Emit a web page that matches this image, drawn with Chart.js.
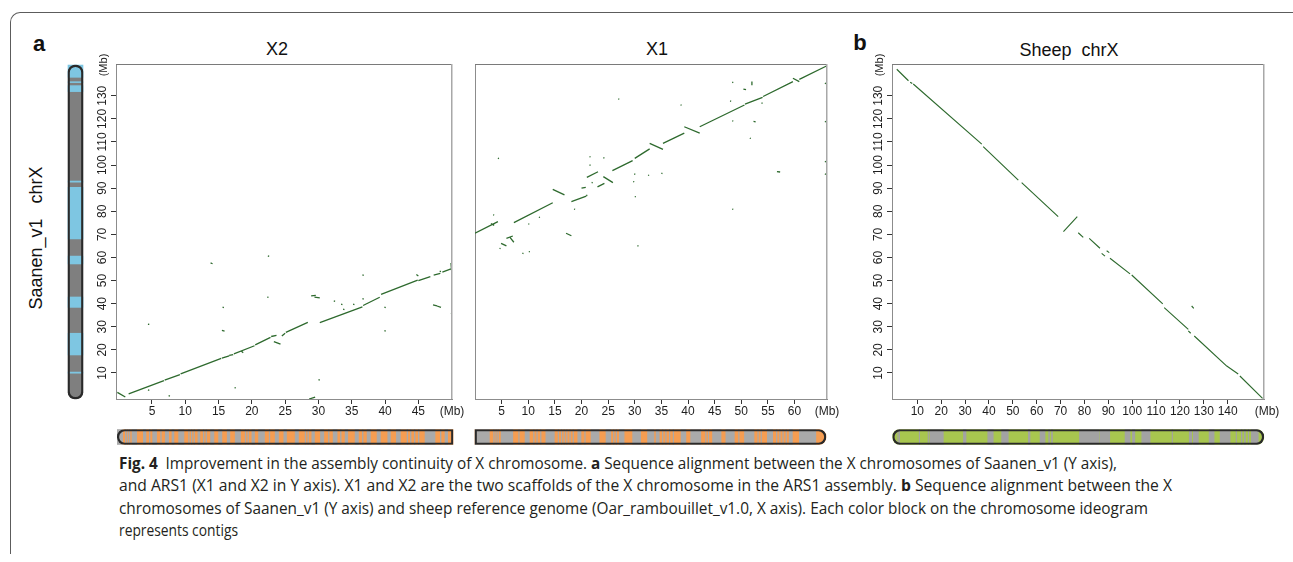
<!DOCTYPE html>
<html>
<head>
<meta charset="utf-8">
<script src="https://cdn.jsdelivr.net/npm/chart.js@4.4.1/dist/chart.umd.min.js"></script>
<style>
  body { margin: 0; background: #fff; width: 1293px; height: 562px; overflow: hidden; position: relative;
         font-family: "Liberation Sans", Arial, sans-serif; color: #111; }
  canvas, .t { position: absolute; }
  .frame { position: absolute; left: 10px; top: 12px; width: 1300px; height: 541px;
           border-top: 1.5px solid #5c5c5c; border-left: 1.5px solid #5c5c5c; border-top-left-radius: 10px; }
  .t { white-space: pre; line-height: 1; }
  .title { font-size: 18px; transform: translate(-50%, -50%); }
  .tag { font-size: 22px; font-weight: bold; transform: translate(-50%, -50%); }
  #caption { position: absolute; left: 119px; top: 452px; font-family: "Open Sans", sans-serif; font-size: 16.5px; color: #231f20; }
  #caption div { line-height: 22.3px; white-space: nowrap; transform-origin: 0 50%; width: max-content; }
</style>
</head>
<body>
<div class="frame"></div>

<div class="t tag" style="left:39px;top:44px">a</div>
<div class="t tag" style="left:860px;top:43px">b</div>
<div class="t title" style="left:277px;top:49px">X2</div>
<div class="t title" style="left:657px;top:49px">X1</div>
<div class="t title" style="left:1069px;top:50px">Sheep  chrX</div>
<div class="t title" style="left:36px;top:238px;transform:translate(-50%,-50%) rotate(-90deg)">Saanen_v1   chrX</div>

<canvas id="ideoSaanen"></canvas>
<canvas id="plotX2"></canvas>
<canvas id="plotX1"></canvas>
<canvas id="plotSheep"></canvas>
<canvas id="ideoX2"></canvas>
<canvas id="ideoX1"></canvas>
<canvas id="ideoSheep"></canvas>

<div id="caption">
  <div data-w="998"><b>Fig. 4</b>&ensp;Improvement in the assembly continuity of X chromosome. <b>a</b> Sequence alignment between the X chromosomes of Saanen_v1 (Y axis),</div>
  <div data-w="1053">and ARS1 (X1 and X2 in Y axis). X1 and X2 are the two scaffolds of the X chromosome in the ARS1 assembly. <b>b</b> Sequence alignment between the X</div>
  <div data-w="1029">chromosomes of Saanen_v1 (Y axis) and sheep reference genome (Oar_rambouillet_v1.0, X axis). Each color block on the chromosome ideogram</div>
  <div data-w="119">represents contigs</div>
</div>

<script>
"use strict";

// tick labels (Mb)
const saanenTicks = [10, 20, 30, 40, 50, 60, 70, 80, 90, 100, 110, 120, 130];
const x2Ticks = [5, 10, 15, 20, 25, 30, 35, 40, 45];
const x1Ticks = [5, 10, 15, 20, 25, 30, 35, 40, 45, 50, 55, 60];
const sheepTicks = [10, 20, 30, 40, 50, 60, 70, 80, 90, 100, 110, 120, 130, 140];

// alignment segments [x1, y1, x2, y2] in Mb (x = reference, y = Saanen_v1)
const x2Segments = [
    [-0.2, 1.6, 1.0, -0.4], [1.5, 1.0, 6.8, 6.7], [6.9, 6.9, 9.2, 9.3], [9.3, 9.6, 15.4, 16.3],
    [15.5, 16.4, 16.6, 17.4], [16.6, 17.6, 17.2, 18.0], [17.3, 18.3, 20.4, 21.8], [20.5, 22.2, 22.8, 25.4],
    [22.9, 25.8, 23.7, 26.3], [23.3, 23.6, 24.3, 22.5], [24.5, 26.0, 25.0, 27.2], [25.1, 27.6, 28.4, 31.9],
    [30.2, 31.8, 36.6, 38.6], [36.7, 39.2, 39.2, 42.8], [39.4, 44.0, 44.9, 50.2], [45.0, 50.0, 46.8, 51.7],
    [47.3, 52.4, 48.3, 53.1], [48.6, 53.7, 50.0, 55.2],
    [4.4, 2.7, 4.6, 2.5], [4.4, 31.1, 4.6, 31.0], [7.5, 0.2, 7.7, 0.0], [13.8, 57.7, 14.1, 57.3],
    [15.6, 38.5, 15.8, 38.3], [15.5, 28.4, 15.9, 28.1], [17.4, 3.7, 17.6, 3.5], [18.4, 19.5, 18.7, 18.8],
    [22.4, 60.7, 22.6, 60.5], [22.3, 42.9, 22.5, 42.7], [28.9, 43.4, 29.6, 43.6], [29.4, 42.8, 30.2, 42.5],
    [30.0, 7.1, 30.2, 6.9], [28.6, -1.3, 29.5, -0.4], [32.3, 41.2, 32.5, 41.0], [33.4, 39.8, 33.6, 39.6],
    [33.7, 37.6, 33.9, 37.4], [35.2, 39.8, 35.4, 39.6], [36.6, 52.5, 36.8, 52.3], [36.6, 42.2, 36.8, 42.0],
    [39.9, 38.5, 40.1, 38.3], [39.9, 28.3, 40.1, 28.1], [44.7, 52.6, 45.0, 52.0], [47.2, 39.5, 47.8, 39.1],
    [47.8, 39.0, 48.4, 38.4], [49.9, 35.9, 50.0, 35.7], [49.9, 57.6, 50.0, 54.0], [48.2, 54.1, 48.4, 53.9]
];
const x1Segments = [
    [0.0, 70.5, 4.3, 75.5], [3.0, 74.7, 3.6, 73.9], [7.3, 75.1, 14.6, 83.7], [14.6, 89.5, 16.8, 87.1],
    [18.1, 84.2, 20.9, 86.6], [20.0, 90.0, 20.8, 90.4], [21.0, 94.7, 23.1, 97.1], [23.0, 90.6, 24.3, 92.1],
    [24.1, 95.0, 25.9, 92.4], [25.8, 97.6, 29.6, 101.9], [30.0, 102.9, 32.8, 107.0], [32.8, 109.4, 35.3, 106.8],
    [35.3, 109.4, 39.3, 113.8], [39.3, 116.6, 42.2, 113.8], [42.2, 116.6, 50.6, 126.0], [50.7, 126.4, 54.0, 129.3],
    [54.1, 129.7, 59.7, 136.1], [59.7, 137.6, 60.9, 136.1], [60.9, 137.1, 66.0, 142.9],
    [26.9, 128.7, 27.1, 128.5], [4.3, 103.0, 4.5, 102.8], [3.4, 78.5, 3.6, 78.3], [10.0, 74.6, 10.2, 74.4],
    [12.0, 77.5, 12.2, 77.3], [4.9, 66.1, 5.9, 65.0], [4.6, 64.0, 4.8, 63.8], [5.9, 68.3, 7.1, 69.3],
    [6.6, 68.6, 7.3, 66.6], [8.9, 61.9, 9.1, 61.7], [10.1, 62.6, 10.3, 62.4], [17.1, 70.5, 18.1, 69.4],
    [18.6, 81.0, 18.8, 80.8], [21.5, 103.7, 21.7, 103.5], [24.1, 103.2, 24.3, 103.0], [21.5, 100.1, 21.7, 99.9],
    [21.9, 92.5, 22.1, 92.3], [20.9, 87.0, 21.1, 86.8], [29.9, 96.2, 30.1, 96.0], [29.7, 92.9, 29.9, 92.7],
    [30.0, 86.4, 30.2, 86.2], [32.5, 95.7, 32.7, 95.5], [30.5, 65.1, 30.7, 64.9], [38.6, 126.1, 38.8, 125.9],
    [48.3, 135.9, 48.5, 135.7], [50.4, 132.9, 50.9, 132.7], [52.0, 136.2, 52.0, 134.6], [47.9, 127.8, 48.1, 127.6],
    [48.3, 119.2, 48.5, 119.0], [52.3, 118.9, 52.7, 118.7], [53.8, 126.9, 54.0, 126.7], [51.6, 111.7, 51.8, 111.5],
    [56.7, 97.2, 57.3, 97.0], [35.0, 96.5, 35.2, 96.3], [48.3, 81.0, 48.5, 80.8], [65.7, 135.5, 65.9, 135.3],
    [65.7, 118.9, 65.9, 118.7], [65.7, 101.6, 65.9, 101.4], [65.7, 96.2, 65.9, 96.0]
];
const sheepSegments = [
    [1.4, 141.5, 6.3, 136.5], [7.0, 135.9, 7.9, 135.3], [8.3, 135.1, 37.0, 109.1], [37.6, 108.0, 52.3, 93.5],
    [53.7, 92.4, 69.0, 77.7], [71.2, 71.2, 77.0, 77.7], [77.4, 70.7, 79.5, 68.7], [82.0, 68.3, 86.5, 64.0],
    [87.2, 61.8, 88.6, 60.6], [89.3, 62.9, 90.4, 62.1], [90.7, 59.7, 99.1, 52.9], [99.8, 52.4, 112.8, 39.9],
    [113.4, 38.3, 123.5, 28.9], [123.5, 28.2, 124.5, 27.2], [126.0, 26.0, 139.6, 13.0], [139.6, 13.0, 144.4, 9.6],
    [145.1, 8.7, 154.6, -1.0], [124.9, 39.0, 125.8, 38.0]
];

// chromosome ideograms: full span and contig blocks (Mb)
const saanenSpan = [-1.2, 143.3];
const saanenBlue = [[138, 143.3], [135.7, 136.1], [131.8, 134.4], [92.6, 93.1], [68, 90.4], [57.2, 60.6],
    [38.4, 42.9], [17.8, 27.2], [9.9, 10.4]];
const x2Span = [-0.2, 50.2];
const x2Gray = [[-0.2, 0.6], [1.0, 1.1], [1.3, 1.4], [1.6, 1.7], [2.0, 2.7], [3.7, 4.1], [4.6, 4.7], [5.1, 5.7],
    [6.3, 6.4], [7.0, 7.5], [8.0, 8.3], [9.0, 9.8], [10.5, 10.6], [10.9, 11.0], [11.3, 11.4], [11.9, 12.2],
    [12.7, 12.8], [13.1, 13.2], [13.8, 14.3], [15.0, 15.5], [16.3, 16.7], [17.5, 18.3], [19.0, 19.1], [19.4, 19.5],
    [20.0, 20.4], [21.0, 21.9], [22.6, 22.7], [23.5, 24.0], [24.8, 25.2], [26.5, 27.0], [28.0, 28.1], [28.4, 28.5],
    [29.0, 29.4], [30.3, 30.8], [31.5, 31.6], [32.2, 32.8], [33.3, 33.4], [34.0, 34.4], [35.5, 36.0], [36.6, 36.7],
    [37.3, 37.8], [38.8, 39.3], [40.4, 40.8], [41.7, 42.3], [43.3, 43.4], [43.8, 43.9], [44.4, 44.5], [45.0, 45.1],
    [46.0, 47.5], [48.3, 48.4], [49.0, 49.4]];
const x1Span = [0.0, 65.9];
const x1Gray = [[0.0, 2.7], [3.5, 3.6], [3.9, 4.0], [4.3, 4.4], [4.9, 7.1], [8.2, 8.3], [9.4, 10.2], [11.0, 11.1],
    [11.6, 11.7], [12.3, 12.4], [13.3, 14.9], [15.6, 15.7], [16.2, 16.3], [16.7, 16.8], [17.2, 17.3], [17.8, 17.9],
    [18.4, 18.5], [19.3, 19.9], [20.6, 20.7], [21.8, 23.3], [24.6, 25.5], [26.0, 26.1], [26.5, 26.6], [27.1, 28.0],
    [29.6, 31.1], [32.4, 33.6], [34.0, 34.6], [35.2, 35.3], [35.8, 35.9], [36.5, 36.6], [37.2, 37.3], [38.7, 39.6],
    [40.5, 42.4], [43.3, 43.4], [43.8, 43.9], [44.6, 46.2], [47.1, 48.7], [49.5, 49.6], [50.6, 52.4], [53.1, 53.2],
    [53.7, 53.8], [54.9, 55.9], [56.6, 56.7], [57.2, 57.3], [57.8, 57.9], [58.4, 58.5], [59.0, 59.6], [60.9, 64.0]];
const sheepSpan = [-0.3, 155.1];
const sheepGray = [[1.8, 2.0], [2.4, 2.6], [10.8, 11.0], [14.5, 14.7], [15.3, 20.9], [29.3, 30.4], [39.5, 41.8],
    [45.3, 48.1], [56.5, 57.2], [61.4, 63.5], [65.0, 65.4], [66.2, 66.6], [77.9, 86.0], [86.4, 90.6], [97.0, 99.1],
    [100.1, 101.1], [104.0, 107.5], [116.7, 116.9], [123.9, 124.9], [125.6, 127.7], [132.2, 134.3], [136.8, 141.0],
    [143.5, 143.7], [145.7, 146.0], [147.0, 147.4], [148.6, 148.8], [149.9, 152.8]];

const Y_MIN = -1.26, Y_MAX = 143.76;
const LINE_GREEN = "#2e6a2e";

const panelText = {
    id: "panelText",
    afterDraw (chart, args, o) {
        const {ctx, chartArea: a} = chart, x = chart.scales.x, y = chart.scales.y;

        ctx.save();
        ctx.lineWidth = 1;
        ctx.strokeStyle = "#7a7a7a";
        ctx.beginPath(); ctx.moveTo(a.left, a.top + 0.5); ctx.lineTo(a.right, a.top + 0.5); ctx.stroke();
        ctx.strokeStyle = "#a8a8a8";
        ctx.lineWidth = 1.5;
        ctx.beginPath(); ctx.moveTo(a.right - 0.25, a.top); ctx.lineTo(a.right - 0.25, a.bottom); ctx.stroke();

        ctx.fillStyle = "#1e1e1e";
        ctx.font = '12px "Liberation Sans", Arial, sans-serif';
        ctx.textAlign = "center";
        ctx.textBaseline = "middle";
        x.ticks.forEach(t => ctx.fillText(String(t.value), x.getPixelForValue(t.value), a.bottom + 13));
        ctx.fillText("(Mb)", a.right + o.mbDx, a.bottom + 13);

        if (o.showY) {
            y.ticks.forEach(t => {
                ctx.save();
                ctx.translate(a.left - 13, y.getPixelForValue(t.value));
                ctx.rotate(-Math.PI / 2);
                ctx.fillText(String(t.value), 0, 0);
                ctx.restore();
            });
            ctx.font = '11px "Liberation Sans", Arial, sans-serif';
            ctx.translate(a.left - 12, a.top + 1);
            ctx.rotate(-Math.PI / 2);
            ctx.fillText("(Mb)", 0, 0);
        }
        ctx.restore();
    }
};

function dotPlot (id, area, segs, xMin, xMax, xTicks, showY, mbDx, lw) {
    const padL = 50, padT = 20, padR = 30, padB = 30,
        cv = document.getElementById(id),
        pts = [];

    cv.width = area.w + padL + padR;
    cv.height = area.h + padT + padB;
    cv.style.left = (area.x - padL) + "px";
    cv.style.top = (area.y - padT) + "px";

    segs.forEach(s => pts.push({x: s[0], y: s[1]}, {x: s[2], y: s[3]}, {x: s[2], y: null}));

    return new Chart(cv, {
        type: "scatter",
        data: {
            datasets: [{
                data: pts, showLine: true, spanGaps: false,
                borderColor: LINE_GREEN, borderWidth: lw, pointRadius: 0
            }]
        },
        options: {
            responsive: false, animation: false, events: [],
            layout: {padding: {left: 0, top: padT, right: padR, bottom: 0}},
            plugins: {legend: {display: false}, tooltip: {enabled: false}, panelText: {showY, mbDx}},
            scales: {
                x: {
                    type: "linear", min: xMin, max: xMax,
                    afterFit: s => { s.height = padB; },
                    afterBuildTicks: s => { s.ticks = xTicks.map(v => ({value: v})); },
                    border: {display: true, color: "#8c8c8c", width: 1},
                    grid: {drawOnChartArea: false, drawTicks: true, tickLength: 5, color: "#333"},
                    ticks: {display: false}
                },
                y: {
                    type: "linear", min: Y_MIN, max: Y_MAX,
                    afterFit: s => { s.width = padL; },
                    afterBuildTicks: s => { s.ticks = showY ? saanenTicks.map(v => ({value: v})) : []; },
                    border: {display: true, color: "#8c8c8c", width: 1},
                    grid: {drawOnChartArea: false, drawTicks: showY, tickLength: 5, color: "#333"},
                    ticks: {display: false}
                }
            }
        },
        plugins: [panelText]
    });
}

function ideogram (id, rect, vertical, min, max, span, blocks, baseColor, blockColor, radius) {
    const pad = 4, cv = document.getElementById(id),
        iAxis = vertical ? "x" : "y", vAxis = vertical ? "y" : "x",
        item = v => ({[iAxis]: "c", [vAxis]: v});

    cv.width = rect.w + (vertical ? 0 : 2 * pad);
    cv.height = rect.h + (vertical ? 2 * pad : 0);
    cv.style.left = (rect.x - (vertical ? 0 : pad)) + "px";
    cv.style.top = (rect.y - (vertical ? pad : 0)) + "px";

    const common = {grouped: false, barThickness: 15, clip: false, borderSkipped: false};

    return new Chart(cv, {
        type: "bar",
        data: {
            labels: ["c"],
            datasets: [
                Object.assign({order: 0, data: [item(span)], backgroundColor: "rgba(0,0,0,0)",
                    borderColor: "#2a2a2a", borderWidth: 1.5, borderRadius: radius}, common),
                Object.assign({order: 1, data: blocks.map(item), backgroundColor: blockColor, borderWidth: 0}, common),
                Object.assign({order: 2, data: [item(span)], backgroundColor: baseColor, borderWidth: 0,
                    borderRadius: radius}, common)
            ]
        },
        options: {
            indexAxis: iAxis, responsive: false, animation: false, events: [],
            layout: {padding: vertical ? {top: pad, bottom: pad} : {left: pad, right: pad}},
            plugins: {legend: {display: false}, tooltip: {enabled: false}},
            scales: {
                [vAxis]: {type: "linear", min, max, display: false},
                [iAxis]: {type: "category", display: false}
            }
        }
    });
}

dotPlot("plotX2", {x: 116, y: 64, w: 336, h: 335}, x2Segments, -0.4, 50.05, x2Ticks, true, 0, 1.3);
dotPlot("plotX1", {x: 475, y: 64, w: 352, h: 335}, x1Segments, 0, 66.1, x1Ticks, false, 0, 1.3);
dotPlot("plotSheep", {x: 892, y: 64, w: 372, h: 335}, sheepSegments, -0.6, 155.2, sheepTicks, true, 3, 1.15);

const R = 7;
ideogram("ideoSaanen", {x: 61, y: 64, w: 29, h: 335}, true, Y_MIN, Y_MAX, saanenSpan, saanenBlue,
    "#7f7f7f", "#7ec6e2", {topLeft: R, topRight: R, bottomLeft: R, bottomRight: R});
ideogram("ideoX2", {x: 116, y: 429, w: 336, h: 16}, false, -0.4, 50.05, x2Span, x2Gray,
    "#f59d52", "#aaaaaa", {topLeft: R, bottomLeft: R, topRight: 0, bottomRight: 0});
ideogram("ideoX1", {x: 475, y: 429, w: 352, h: 16}, false, 0, 66.1, x1Span, x1Gray,
    "#f59d52", "#aaaaaa", {topLeft: 0, bottomLeft: 0, topRight: R, bottomRight: R});
ideogram("ideoSheep", {x: 892, y: 429, w: 372, h: 16}, false, -0.6, 155.2, sheepSpan, sheepGray,
    "#a8c64f", "#a3a3a3", {topLeft: R, topRight: R, bottomLeft: R, bottomRight: R});

// fit caption lines to the widths they have in the figure
document.querySelectorAll("#caption div").forEach(el => {
    el.style.transform = `scaleX(${Number(el.dataset.w) / el.getBoundingClientRect().width})`;
});
</script>
</body>
</html>
